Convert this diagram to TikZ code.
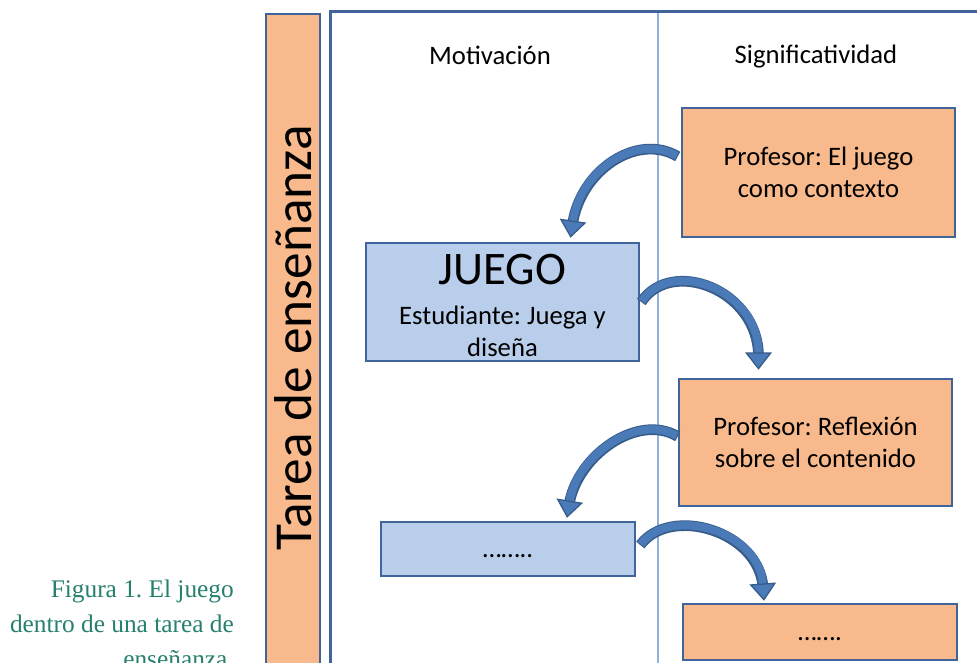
\documentclass[tikz,border=0pt]{standalone}
\usepackage{fontspec}
\setmainfont{Carlito}
\newfontfamily\capfont{Liberation Serif}
\usetikzlibrary{arrows.meta,calc}
\frenchspacing
\definecolor{orf}{HTML}{F8BA8C}
\definecolor{blf}{HTML}{B9CEEA}
\definecolor{bdr}{HTML}{41659A}
\definecolor{divc}{HTML}{8FB1DC}
\definecolor{arrmid}{HTML}{4A7AB8}
\definecolor{arrdk}{HTML}{385D8A}
\definecolor{capc}{HTML}{26806F}
\begin{document}
\begin{tikzpicture}[x=0.75pt,y=-0.75pt,
  txt/.style={font=\fontsize{20}{24}\selectfont},
  box/.style={draw=bdr, line width=1.9pt, rectangle, inner sep=0pt, align=center, txt},
  obox/.style={box, fill=orf},
  bbox/.style={box, fill=blf},
  dots/.style={txt, anchor=base, inner sep=0pt},
  captxt/.style={font=\capfont\fontsize{19}{26}\selectfont, text=capc, anchor=base east, inner sep=0pt},
  arrback/.style={draw=arrdk, line width=8pt, shorten >=10pt},
  arrfront/.style={draw=arrmid, line width=6pt, shorten <=0.8pt, -{Triangle[width=20pt,length=13pt,fill=arrmid,color=arrdk,line width=1pt]}}
]
\useasboundingbox (0,0) rectangle (977,663);
\clip (0,0) rectangle (977,663);
\fill[white] (0,0) rectangle (977,663);
% side bar
\draw[draw=bdr, fill=orf, line width=1.9pt] (266,14) rectangle (320,700);
\node[rotate=90, font=\fontsize{40}{48}\selectfont, inner sep=0pt] (tarea) at (293,338) {Tarea de enseñanza};
% frame
\draw[bdr, line width=2.25pt] (330,700) -- (330,12) -- (1000,12);
\draw[divc, line width=1.2pt] (658,13) -- (658,700);
% headings
\node[txt, inner sep=0pt] (mot) at (490,58.5) {\strut Motivación};
\node[txt, inner sep=0pt] (sig) at (816,57.5) {\strut Significatividad};
% boxes
\node[obox, minimum width=204.75pt, minimum height=96.75pt] (p1) at (818.5,172.5)
  {Profesor: El juego\\como contexto};
\node[bbox, minimum width=204.75pt, minimum height=88.5pt] (juego) at (502.5,302)
  {\rule{0pt}{27.5pt}{\fontsize{35}{40}\selectfont JUEGO}\\[6pt]Estudiante: Juega y\\diseña};
\node[obox, minimum width=204.75pt, minimum height=95.25pt] (p2) at (815.5,442.5)
  {Profesor: Reflexión\\sobre el contenido};
\node[bbox, minimum width=190.5pt, minimum height=40.5pt] (bd) at (508,549) {};
\node[dots] (bdt) at ($(bd.center)+(0,8)$) {……..};
\node[obox, minimum width=205.5pt, minimum height=42pt] (od) at (820,632) {};
\node[dots] (odt) at ($(od.center)+(0,8)$) {…….};
% arrow anchors
\coordinate (a1s) at ($(p1.west)+(-3,-16)$);
\coordinate (a1e) at ($(juego.north)+(68,-4)$);
\coordinate (a2s) at ($(juego.east)+(1,0)$);
\coordinate (a2e) at ($(p2.north)+(-57,-8)$);
\coordinate (a3s) at ($(p2.west)+(0,-6)$);
\coordinate (a3e) at ($(bd.north)+(59,-3)$);
\coordinate (a4s) at ($(bd.east)+(4,-4)$);
\coordinate (a4e) at ($(od.north)+(-56,-2)$);
% arrows
\draw[arrback] (a1s) .. controls +(-40,-24) and +(10,-68) .. (a1e);
\draw[arrfront] (a1s) .. controls +(-40,-24) and +(10,-68) .. (a1e);
\draw[arrback] (a2s) .. controls +(30,-45) and +(0,-80) .. (a2e);
\draw[arrfront] (a2s) .. controls +(30,-45) and +(0,-80) .. (a2e);
\draw[arrback] (a3s) .. controls +(-40,-24) and +(10,-62) .. (a3e);
\draw[arrfront] (a3s) .. controls +(-40,-24) and +(10,-62) .. (a3e);
\draw[arrback] (a4s) .. controls +(30,-40) and +(-5,-70) .. (a4e);
\draw[arrfront] (a4s) .. controls +(30,-40) and +(-5,-70) .. (a4e);
% caption
\node[captxt] (cap1) at (234,597) {Figura 1. El juego};
\node[captxt] (cap2) at (234,632) {dentro de una tarea de};
\node[captxt] (cap3) at (234,667) {enseñanza.};
\end{tikzpicture}
\end{document}
